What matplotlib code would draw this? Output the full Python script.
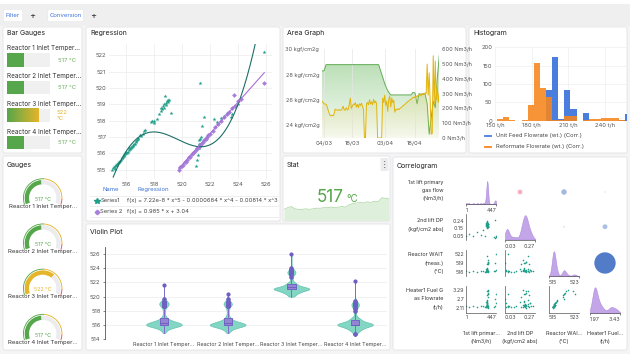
import numpy as np
import pandas as pd
import matplotlib
matplotlib.use('Agg')
import matplotlib.pyplot as plt
import matplotlib.dates as mdates
from matplotlib.patches import Rectangle, FancyBboxPatch, Wedge, Circle
from matplotlib.mlab import GaussianKDE
from matplotlib.colors import to_rgb

plt.rcParams['font.family'] = ['Inter', 'DejaVu Sans']

#################
# data
#################
reactors = ['Reactor 1 Inlet Temper...', 'Reactor 2 Inlet Temper...',
            'Reactor 3 Inlet Temper...', 'Reactor 4 Inlet Temper...']
reactor_temps = [517, 517, 522, 517]

# regression panel
s1_x = [515.0, 515.1, 515.2, 515.25, 515.3, 515.4, 515.45, 515.5, 515.6, 515.65, 515.7, 515.8,
        515.85, 515.9, 516.0, 516.05, 516.1, 516.2, 516.25, 516.3, 516.4, 516.5, 516.55, 516.6,
        516.7, 516.8, 516.9, 517.0, 517.1, 517.2, 517.3, 517.4,
        515.15, 515.35, 515.55, 515.75, 515.95, 516.15, 516.35, 516.45, 516.65, 516.75, 516.85,
        517.8, 517.9, 518.0, 518.05, 518.2, 518.4, 518.5, 518.55, 518.6, 518.65, 518.7, 518.75,
        518.8, 518.85, 518.9, 518.95, 519.0, 519.05, 519.1, 519.2,
        521.0, 521.1, 521.15, 521.2, 521.25, 521.3, 521.35, 521.3, 521.45, 521.6, 521.2, 521.4,
        521.5, 521.7, 521.8,
        522.3, 522.5, 522.8, 523.0, 523.2, 523.5, 523.6, 524.0, 525.9]
s1_y = [515.0, 515.1, 515.05, 515.2, 515.3, 515.35, 515.4, 515.5, 515.55, 515.6, 515.7, 515.75,
        515.9, 515.85, 516.0, 516.1, 516.05, 516.2, 516.3, 516.25, 516.4, 516.5, 516.45, 516.6,
        516.7, 516.8, 516.95, 517.1, 517.05, 517.2, 517.35, 517.45,
        515.15, 515.3, 515.5, 515.7, 515.95, 516.1, 516.35, 516.4, 516.6, 516.75, 516.85,
        517.9, 518.0, 517.85, 518.0, 518.1, 518.4, 518.6, 518.75, 518.7, 518.9, 518.8, 519.0,
        519.5, 519.1, 518.95, 519.2, 519.3, 519.15, 519.25, 518.45,
        515.25, 515.6, 515.9, 516.3, 516.6, 516.9, 517.0, 520.3, 517.7, 518.2, 516.8, 516.5,
        516.7, 516.9, 517.0,
        518.1, 517.9, 518.15, 518.3, 518.5, 518.2, 518.4, 519.0, 522.2]
s2_x = [519.8, 519.9, 520.0, 520.1, 520.2, 520.3, 520.4, 520.5, 520.6, 520.7, 520.8, 520.9,
        521.0, 521.1, 521.2, 521.3, 521.4, 521.5, 521.6, 521.7, 521.8, 521.9, 522.0, 522.2,
        522.4, 522.6, 522.8, 523.0, 523.2, 523.4, 523.6, 523.7, 523.8, 524.0, 524.2, 525.9]
s2_y = [515.0, 515.15, 515.25, 515.3, 515.45, 515.5, 515.6, 515.75, 515.8, 515.95, 516.0, 516.1,
        516.2, 516.3, 516.4, 516.5, 516.6, 516.7, 516.8, 516.9, 517.0, 517.1, 517.2, 517.4,
        517.6, 517.8, 518.0, 518.2, 518.4, 518.55, 518.8, 519.55, 518.9, 519.2, 519.35, 520.3]
# series1 regression curve
s1_curve_x = [515.1, 516.1, 516.8, 517.9, 519.2, 520.2, 521.2, 522.1, 523.0, 524.0, 524.9]
s1_curve_y = [514.6, 516.0, 517.1, 517.36, 517.0, 516.6, 516.4, 516.6, 517.4, 518.8, 521.5]
s1_formula = 'f(x) = 7.22e-8 * x^5 - 0.0000684 * x^4 - 0.00814 * x^3 + 2.79 * x^2'
s2_formula = 'f(x) = 0.985 * x + 3.04'

# violin panel: temperature values and how often they occur
vio_vals = [
    [514.9, 515.3, 515.7, 516.0, 516.3, 516.6, 517.0, 517.4, 517.8, 518.3, 518.7, 519.0, 519.3, 519.6, 521.6],
    [514.9, 515.3, 515.7, 516.0, 516.3, 516.6, 517.0, 517.4, 517.8, 518.3, 518.7, 519.0, 519.3, 519.6, 520.4],
    [520.0, 520.2, 520.6, 521.0, 521.3, 521.7, 522.0, 522.4, 522.8, 523.1, 523.4, 523.7, 524.0, 526.0],
    [514.8, 515.2, 515.6, 516.0, 516.3, 516.7, 517.0, 517.5, 518.0, 518.4, 518.8, 519.1, 519.4, 522.2]]
vio_counts = [
    [2, 6, 16, 34, 24, 12, 6, 2, 2, 3, 6, 9, 5, 2, 1],
    [2, 7, 18, 34, 22, 10, 6, 2, 2, 3, 5, 8, 4, 2, 1],
    [2, 6, 16, 32, 22, 10, 4, 2, 2, 4, 7, 4, 2, 1],
    [3, 8, 16, 34, 20, 10, 5, 2, 2, 4, 7, 4, 2, 1]]

# area graph: pressure (daily) and gas flow (every 12h)
pressure = [28.3, 28.3] + [28.79] * 27 + [28.3, 27.8, 27.3, 26.9, 26.6] + [26.4] * 11 + \
           [26.6, 26.55, 25.7, 26.5, 26.45, 26.5, 26.45, 25.7, 23.3, 24.6, 25.9, 25.4, 27.7, 29.5]
gas_flow_ts = [250, 240, 232, 230, 228, 215, 190, 170, 152, 150, 155, 150, 165, 195, 190,
               190, 188, 192, 186, 190, 200, 215, 188, 190, 205, 190, 195, 230,
               270, 200, 215, 230, 225, 240, 210, 228, 205, 232, 220, 236, 215, 195,
               0, 0,
               232, 240, 225, 260, 230, 245, 225, 262, 238, 250, 230,
               0, 0, 0, 0, 0,
               270, 240, 290, 220, 250,
               180, 260, 285, 210, 270, 240, 255, 175,
               195, 190, 198, 192, 200,
               205, 210, 218, 222, 228, 235, 240, 248, 252, 258, 262,
               268, 275, 272, 280, 285, 278, 290, 288, 295, 285, 300, 292, 298, 305, 300,
               500, 290, 440, 250, 27, 30, 556, 230, 520, 260, 350, 240, 300]
area_start = '2024-03-03'
date_ticks = ['2024-03-04', '2024-03-18', '2024-04-03', '2024-04-18']

# histogram
hist_edges = [151.7 + 5 * k for k in range(22)]
feed_counts = [0, 0, 0, 0, 0, 0, 0, 0, 85, 173, 5, 85, 32, 0, 20, 0, 0, 0, 0, 0, 2, 18]
reformate_counts = [5, 11, 3, 0, 1, 43, 157, 88, 65, 3, 3, 14, 14, 0, 3, 5, 5, 6, 6, 6, 2, 0]

# stat sparkline
stat_trend = [515.9, 516.2, 516.4, 516.0, 515.9, 515.9, 516.0, 515.9, 516.0, 516.1, 516.1, 516.2,
              516.2, 516.3, 516.2, 516.3, 516.4, 516.3, 516.7, 516.9, 517.0, 517.1, 517.0, 517.2,
              517.1, 517.3, 517.2, 517.9, 517.8, 517.8]

# correlogram samples
gas_flow = [300, 305, 310, 312, 315, 318, 320, 322, 325, 300, 308, 311, 316, 319, 323, 327, 330,
            303, 309, 314, 317, 321, 326, 333, 306, 313, 318, 324, 312, 320,
            5, 40, 110, 170, 220, 260, 285, 420, 430, 440, 447, 435]
lift_dp = [0.22, 0.20, 0.18, 0.21, 0.17, 0.19, 0.23, 0.16, 0.20, 0.18, 0.21, 0.19, 0.17, 0.22,
           0.20, 0.18, 0.16, 0.19, 0.21, 0.23, 0.18, 0.20, 0.17, 0.19, 0.24, 0.15, 0.21, 0.18,
           0.20, 0.19, 0.05, 0.08, 0.05, 0.10, 0.06, 0.12, 0.05, 0.04, 0.03, 0.05, 0.04, 0.25]
wait_temp = [516.0, 516.2, 516.5, 516.3, 516.1, 516.4, 516.6, 516.2, 516.0, 516.8, 517.0, 516.3,
             516.5, 518.8, 519.2, 519.0, 518.6, 516.1, 516.4, 516.7, 517.2, 519.4, 520.0, 519.1,
             516.3, 516.9, 521.5, 516.2, 516.5, 516.4,
             516.1, 516.0, 516.2, 516.0, 516.1, 516.3, 516.0, 516.2, 519.0, 522.0, 516.5, 516.3]
fuel_flow = [2.15, 2.25, 2.30, 2.20, 2.12, 2.35, 2.40, 2.18, 2.10, 2.50, 2.60, 2.22, 2.28, 2.95,
             3.10, 3.05, 2.85, 2.14, 2.32, 2.45, 2.55, 3.20, 3.29, 3.00, 2.24, 2.48, 3.25, 2.20,
             2.27, 2.26, 2.20, 2.15, 2.25, 2.18, 2.22, 2.20, 2.16, 2.15, 2.70, 3.00, 2.40, 2.20]
corr_lims = [(1, 447), (0.03, 0.27), (515, 523), (1.97, 3.43)]
corr_lim_labels = [('1', '447'), ('0.03', '0.27'), ('515', '523'), ('1.97', '3.43')]
# upper triangle (row, col, correlation)
corr_pairs = [(0, 1, -0.22), (0, 2, 0.25), (0, 3, 0.06), (1, 2, 0.07), (1, 3, 0.22), (2, 3, 0.97)]

#################
# helpers
#################
W, H = 630, 354
GREEN = '#56a64b'
YELLOW = '#e5b52a'
RED = '#f2495c'
BLUE = '#3d71d9'
TEAL = '#1f9e89'
PURPLE = '#a77fdc'
TXT = '#555555'

fig = plt.figure(figsize=(W / 100, H / 100), dpi=100, facecolor='#f4f4f5')
bg = fig.add_axes([0, 0, 1, 1])
bg.set_xlim(0, W)
bg.set_ylim(-H, 0)
bg.axis('off')


def pax(x0, y0, x1, y1):
    a = fig.add_axes([x0 / W, 1 - y1 / H, (x1 - x0) / W, (y1 - y0) / H])
    a.patch.set_alpha(0)
    return a


def txt(x, y, s, **kw):
    kw.setdefault('fontsize', 4.2)
    kw.setdefault('color', '#333333')
    kw.setdefault('va', 'center')
    return bg.text(x, -y, s, **kw)


def panel(x0, y0, x1, y1, title, ty):
    bg.add_patch(FancyBboxPatch((x0, -y1), x1 - x0, y1 - y0, boxstyle='round,pad=0,rounding_size=2',
                                fc='white', ec='#e3e3e6', lw=0.6))
    txt(x0 + 4, ty, title, fontsize=5, color='#222222')


def clean(a):
    for s in a.spines.values():
        s.set_visible(False)
    a.tick_params(length=0, labelsize=4.2, labelcolor=TXT, pad=2)


# top bar
bg.add_patch(Rectangle((0, -4), W, 4, fc='white', ec='none'))
bg.add_patch(Rectangle((0, -25.5), W, 21.5, fc='#efeff0', ec='none'))
bg.add_patch(FancyBboxPatch((3.3, -21.7), 19.4, 12.4, boxstyle='round,pad=0,rounding_size=1.5',
                            fc='white', ec='#e6e6e6', lw=0.4))
txt(13, 15.5, 'Filter', fontsize=4.3, color=BLUE, ha='center')
txt(32.3, 15.3, '+', fontsize=6.5, color='#333333', ha='center')
bg.add_patch(FancyBboxPatch((47.7, -21.7), 35.6, 12.4, boxstyle='round,pad=0,rounding_size=1.5',
                            fc='white', ec='#e6e6e6', lw=0.4))
txt(65.5, 15.5, 'Conversion', fontsize=4.3, color=BLUE, ha='center')
txt(93.3, 15.3, '+', fontsize=6.5, color='#333333', ha='center')

panel(3, 27, 82, 153, 'Bar Gauges', 33.3)
panel(3, 156, 82, 350, 'Gauges', 165)
panel(86, 27, 280, 221, 'Regression', 33.3)
panel(283, 27, 466, 153, 'Area Graph', 33.3)
panel(469, 27, 627, 153, 'Histogram', 33.3)
panel(283, 156, 390, 221, 'Stat', 165.3)
panel(86, 224, 390, 350, 'Violin Plot', 232)
panel(393, 157, 627, 350, 'Correlogram', 165.7)

#################
# bar gauges
#################
BG_MIN, BG_MAX = 511, 526
for i, v in enumerate(reactor_temps):
    top = 53.3 + 27.6 * i
    txt(7, 48.3 + 27.8 * i, reactors[i], fontsize=4.6, color='#333333')
    bg.add_patch(Rectangle((7, -(top + 13.3)), 43, 13.3, fc='#f0f0f1', ec='none'))
    ln = 43 * (v - BG_MIN) / (BG_MAX - BG_MIN)
    if v < 518:
        bg.add_patch(Rectangle((7, -(top + 13.3)), ln, 13.3, fc=GREEN, ec='none'))
        txt(58, top + 6.7, '%d °C' % v, fontsize=4.3, color='#6bb25e')
    else:
        grad = np.zeros((1, 100, 3))
        g0, g1 = np.array(to_rgb(GREEN)), np.array(to_rgb(YELLOW))
        for k in range(100):
            grad[0, k] = g0 + (g1 - g0) * k / 99
        bg.imshow(grad, extent=[7, 7 + ln, -(top + 13.3), -top], aspect='auto', zorder=2)
        txt(57, top + 4.4, '%d' % v, fontsize=4.3, color=YELLOW)
        txt(57, top + 10, '°C', fontsize=4.3, color=YELLOW)

#################
# gauges
#################
G_MIN, G_MAX = 505, 530


def ang(v):
    return 200 - 220 * (v - G_MIN) / (G_MAX - G_MIN)


for i, v in enumerate(reactor_temps):
    cx, cy = 42.7, -(198 + 45.2 * i)
    col = GREEN if v < 518 else YELLOW
    bg.add_patch(Wedge((cx, cy), 19.7, ang(518), 200, width=0.9, fc=GREEN, ec='none'))
    bg.add_patch(Wedge((cx, cy), 19.7, ang(528), ang(518), width=0.9, fc=YELLOW, ec='none'))
    bg.add_patch(Wedge((cx, cy), 19.7, -20, ang(528), width=0.9, fc=RED, ec='none'))
    bg.add_patch(Wedge((cx, cy), 18.0, ang(v), 200, width=4.3, fc=col, ec='none'))
    bg.add_patch(Wedge((cx, cy), 18.0, -20, ang(v), width=4.3, fc='#ececee', ec='none'))
    txt(cx, 199.5 + 45.2 * i, '%d °C' % v, fontsize=3.8, color=col, ha='center')
    txt(cx, 206.5 + 45.2 * i, reactors[i], fontsize=4.3, color='#333333', ha='center')

bg.set_xlim(0, W)
bg.set_ylim(-H, 0)
bg.set_aspect('auto')

#################
# regression
#################
ax_r = pax(109, 44, 272, 179)
clean(ax_r)
ax_r.grid(color='#ececec', lw=0.5)
ax_r.set_axisbelow(True)
ax_r.scatter(s1_x, s1_y, marker='*', s=9, color=TEAL, lw=0, zorder=3)
ax_r.scatter(s2_x, s2_y, marker='D', s=6, color=PURPLE, lw=0, zorder=4)
c5 = np.polyfit(np.array(s1_curve_x) - 520, s1_curve_y, 5)
xs = np.linspace(515.1, 525.3, 300)
ax_r.plot(xs, np.polyval(c5, xs - 520), color='#1d6f66', lw=0.8, zorder=5)
c1 = np.polyfit(s2_x, s2_y, 1)
xs2 = np.linspace(min(s2_x), max(s2_x), 50)
ax_r.plot(xs2, np.polyval(c1, xs2), color='#a66fd6', lw=0.8, zorder=5)
ax_r.set_xlim(514.8, 526.45)
ax_r.set_ylim(514.43, 522.7)
ax_r.set_xticks([516, 518, 520, 522, 524, 526])
ax_r.set_yticks([515, 516, 517, 518, 519, 520, 521, 522])

# regression legend table
lg = pax(88, 184, 279, 219)
lg.axis('off')
lg.set_xlim(88, 279)
lg.set_ylim(219, 184)
lg.text(103, 189.3, 'Name', fontsize=4.3, color=BLUE, va='center')
lg.text(137, 189.3, 'Regression', fontsize=4.3, color=BLUE, va='center')
for yl in [195.8, 206.3, 217]:
    lg.plot([90, 279], [yl, yl], color='#e8e8e8', lw=0.5)
lg.plot([96.7], [200.8], marker='*', ms=4, color=TEAL, lw=0)
lg.text(100.5, 200.8, 'Series1', fontsize=4.2, color='#444444', va='center')
lg.text(127.3, 200.8, s1_formula, fontsize=4.2, color='#444444', va='center', clip_on=True)
lg.plot([96.7], [211.7], marker='D', ms=2.3, color=PURPLE, lw=0)
lg.text(100.5, 211.7, 'Series 2', fontsize=4.2, color='#444444', va='center')
lg.text(127.3, 211.7, s2_formula, fontsize=4.2, color='#444444', va='center')

#################
# area graph
#################
t_p = mdates.date2num(pd.date_range(area_start, periods=len(pressure), freq='D'))
t_g = mdates.date2num(pd.date_range(area_start, periods=len(gas_flow_ts), freq='12h'))


def grad_fill(a, x, y, base, top, color, a_top, a_bot):
    poly = a.fill_between(x, y, base, color='none', lw=0)
    img = np.zeros((100, 1, 4))
    img[:, :, :3] = to_rgb(color)
    img[:, 0, 3] = np.linspace(a_top, a_bot, 100)
    im = a.imshow(img, extent=[x.min(), x.max(), base, top], aspect='auto', origin='upper', zorder=1)
    im.set_clip_path(poly.get_paths()[0], transform=a.transData)


ax_a = pax(322, 49.3, 439.3, 138)
clean(ax_a)
grad_fill(ax_a, t_p, np.array(pressure), 23.0, 30, '#6dbb63', 0.55, 0.05)
ax_a.plot(t_p, pressure, color='#62ad55', lw=0.7, zorder=3)
ax_a.set_ylim(23.0, 30)
ax_a.set_xlim(t_p[0], t_p[-1])
ax_a.set_yticks([24, 26, 28, 30])
ax_a.set_yticklabels(['%d kgf/cm2g' % v for v in [24, 26, 28, 30]], fontsize=4)
tick_nums = mdates.date2num(pd.to_datetime(date_ticks))
ax_a.set_xticks(tick_nums)
ax_a.xaxis.set_major_formatter(mdates.DateFormatter('%d/%m'))
ax_a.tick_params(axis='x', labelsize=4.2, pad=2.5)
ax_a.grid(axis='x', color='#e6e6e6', lw=0.5)

ax_a2 = ax_a.twinx()
ax_a2.patch.set_alpha(0)
clean(ax_a2)
grad_fill(ax_a2, t_g, np.array(gas_flow_ts, dtype=float), 0, 600, '#e3c43a', 0.35, 0.05)
ax_a2.plot(t_g, gas_flow_ts, color='#e2b40c', lw=0.7, zorder=3)
ax_a2.set_ylim(0, 600)
ax_a2.set_xlim(t_p[0], t_p[-1])
ax_a2.set_yticks([0, 100, 200, 300, 400, 500, 600])
ax_a2.set_yticklabels(['%d Nm3/h' % v for v in range(0, 700, 100)], fontsize=4)

#################
# histogram
#################
ax_h = pax(495, 47.3, 627, 120.7)
clean(ax_h)
ax_h.grid(color='#efefef', lw=0.5)
ax_h.set_axisbelow(True)
ax_h.bar(hist_edges, feed_counts, width=5, align='edge', color='#4a7ede', lw=0, zorder=2)
ax_h.bar(hist_edges, reformate_counts, width=5, align='edge', color='#f7851c', alpha=0.88, lw=0, zorder=3)
ax_h.set_xlim(150, 258)
ax_h.set_ylim(0, 200)
ax_h.set_xticks([150, 180, 210, 240])
ax_h.set_xticklabels(['%d t/h' % v for v in [150, 180, 210, 240]], fontsize=4.2)
ax_h.set_yticks([0, 50, 100, 150, 200])
bg.plot([485, 491], [-135.7, -135.7], color='#4a7ede', lw=1.3)
txt(495.5, 135.7, 'Unit Feed Flowrate (wt.) (Corr.)', fontsize=4.2, color='#444444')
bg.plot([485, 491], [-146.7, -146.7], color='#f7851c', lw=1.3)
txt(495.5, 146.7, 'Reformate Flowrate (wt.) (Corr.)', fontsize=4.2, color='#444444')

#################
# stat
#################
ax_s = pax(284, 196, 389, 220.5)
ax_s.axis('off')
xs_s = np.arange(len(stat_trend))
ax_s.fill_between(xs_s, stat_trend, 514, color='#deefdb', lw=0)
ax_s.plot(xs_s, stat_trend, color='#b3d9ab', lw=0.6)
ax_s.set_xlim(0, len(stat_trend) - 1)
ax_s.set_ylim(514, 518.2)
txt(343.5, 201.7, '517', fontsize=12.3, color=GREEN, ha='right', va='baseline')
txt(346.5, 201.7, '°C', fontsize=7, color=GREEN, ha='left', va='baseline')
bg.add_patch(FancyBboxPatch((380.5, -171), 8, 13, boxstyle='round,pad=0,rounding_size=1',
                            fc='#ececee', ec='none'))
txt(384.5, 164.5, '⋮', fontsize=5.5, color='#444444', ha='center', family='DejaVu Sans')

#################
# violin
#################
ax_v = pax(104.7, 246.7, 387, 339.3)
for s in ['top', 'right', 'bottom']:
    ax_v.spines[s].set_visible(False)
ax_v.spines['left'].set_color('#555555')
ax_v.spines['left'].set_linewidth(0.6)
ax_v.tick_params(axis='y', length=1.5, width=0.5, color='#555555', labelsize=4.2, labelcolor=TXT, pad=1.5)
ax_v.tick_params(axis='x', length=0, labelsize=3.85, labelcolor='#444444', pad=2)
ax_v.grid(axis='y', color='#ececec', lw=0.5)
ax_v.set_axisbelow(True)
samples = [np.repeat(v, c) for v, c in zip(vio_vals, vio_counts)]
pos = [1, 2, 3, 4]
parts = ax_v.violinplot(samples, positions=pos, widths=0.56, showextrema=False, bw_method=0.2)
for b in parts['bodies']:
    b.set_facecolor('#84d6c4')
    b.set_edgecolor('#5fc3ad')
    b.set_linewidth(0.5)
    b.set_alpha(1)
# whisker line up to the highest reading, box and outlier dots on top
for p, smp in zip(pos, samples):
    ax_v.vlines(p, np.percentile(smp, 75), smp.max(), color='#7d6ecb', lw=0.7, zorder=2)
ax_v.boxplot(samples, positions=pos, widths=0.13, patch_artist=True,
             boxprops=dict(facecolor='#9584d4', edgecolor='#6c5cc0', lw=0.6),
             medianprops=dict(color='#6c5cc0', lw=0.6),
             whiskerprops=dict(color='#7d6ecb', lw=0.7),
             capprops=dict(lw=0),
             flierprops=dict(marker='o', markersize=3, markerfacecolor='#6f5fc2',
                             markeredgecolor='none'))
ax_v.set_xlim(0.07, 4.5)
ax_v.set_ylim(514, 527)
ax_v.set_yticks([514, 516, 518, 520, 522, 524, 526])
ax_v.set_xticks(pos)
ax_v.set_xticklabels(reactors)

#################
# correlogram
#################
corr_data = [np.array(gas_flow), np.array(lift_dp), np.array(wait_temp), np.array(fuel_flow)]
col_px = [(466, 496), (505, 535), (549, 579), (590, 620)]
row_px = [(180, 204), (214, 239.5), (250, 276), (286, 313)]
row_ylim = [None, (0.005, 0.33), (514.5, 523.5), (1.75, 3.56)]
row_ticks = [None, [0.05, 0.15, 0.24], [516, 519, 522], [2.11, 2.7, 3.29]]
row_ticklabels = [None, ['0.05', '0.15', '0.24'], ['516', '519', '522'], ['2.11', '2.7', '3.29']]
bw = [0.12, 0.22, 0.28, 0.3]


def edge_labels(a, j):
    lo, hi = corr_lims[j]
    a.set_xticks([lo, hi])
    a.set_xticklabels(corr_lim_labels[j])
    labs = a.get_xticklabels()
    labs[0].set_ha('left')
    labs[1].set_ha('right')


for i in range(4):
    for j in range(i + 1):
        x0, x1 = col_px[j]
        y0, y1 = row_px[i]
        a = pax(x0, y0, x1, y1)
        for s in a.spines.values():
            s.set_visible(False)
        a.tick_params(length=0, labelsize=3.8, labelcolor='#444444', pad=1.5)
        lo, hi = corr_lims[j]
        a.set_xlim(lo, hi)
        if i == j:
            kde = GaussianKDE(corr_data[i], bw_method=bw[i])
            gx = np.linspace(lo, hi, 200)
            gy = kde.evaluate(gx)
            a.fill_between(gx, gy / gy.max(), 0, color='#b997e3', alpha=0.85, lw=0.4, edgecolor='#a67fdb')
            a.set_ylim(0, 1.05)
            a.set_yticks([])
            a.spines['bottom'].set_visible(True)
            a.spines['bottom'].set_color('#555555')
            a.spines['bottom'].set_linewidth(0.5)
            edge_labels(a, j)
            a.tick_params(axis='x', length=1.5, width=0.5, color='#555555')
        else:
            a.scatter(corr_data[j], corr_data[i], s=1.3, color=TEAL, lw=0)
            a.set_ylim(*row_ylim[i])
            a.spines['left'].set_visible(True)
            a.spines['left'].set_color('#555555')
            a.spines['left'].set_linewidth(0.5)
            if j == 0:
                a.set_yticks(row_ticks[i])
                a.set_yticklabels(row_ticklabels[i])
            else:
                a.set_yticks([])
            if i == 3:
                a.spines['bottom'].set_visible(True)
                a.spines['bottom'].set_color('#555555')
                a.spines['bottom'].set_linewidth(0.5)
                edge_labels(a, j)
            else:
                a.set_xticks([])

for i, j, r in corr_pairs:
    cx = (col_px[j][0] + col_px[j][1]) / 2
    cy = (row_px[i][0] + row_px[i][1]) / 2
    if r < 0:
        col = '#f4a7b7'
    else:
        c0, c1b = np.array(to_rgb('#d6e0f2')), np.array(to_rgb('#3f6dc2'))
        col = c0 + (c1b - c0) * min(1, r * 1.6)
    bg.add_patch(Circle((cx, -cy), max(0.6, 11 * abs(r)), fc=col, ec='none', alpha=0.9))

row_labels = [['1st lift primary', 'gas flow', '(Nm3/h)'], ['2nd lift DP', '(kgf/cm2 abs)'],
              ['Reactor WAIT', '(meas.)', '(°C)'], ['Heater1 Fuel G', 'as Flowrate', '(t/h)']]
row_label_y = [[182.7, 190.7, 198.7], [221, 230], [254.3, 263.3, 271.7], [290, 298.3, 307.3]]
for lines, ys in zip(row_labels, row_label_y):
    for s, y in zip(lines, ys):
        txt(443.5, y, s, fontsize=3.9, color='#333333', ha='right')
col_labels = [['1st lift primar...', '(Nm3/h)'], ['2nd lift DP', '(kgf/cm2 abs)'],
              ['Reactor WAI...', '(°C)'], ['Heater1 Fuel...', '(t/h)']]
for (x0, x1), lines in zip(col_px, col_labels):
    txt((x0 + x1) / 2, 333.3, lines[0], fontsize=3.9, color='#333333', ha='center')
    txt((x0 + x1) / 2, 341.7, lines[1], fontsize=3.9, color='#333333', ha='center')

fig.savefig('out.png', dpi=100, facecolor=fig.get_facecolor())
